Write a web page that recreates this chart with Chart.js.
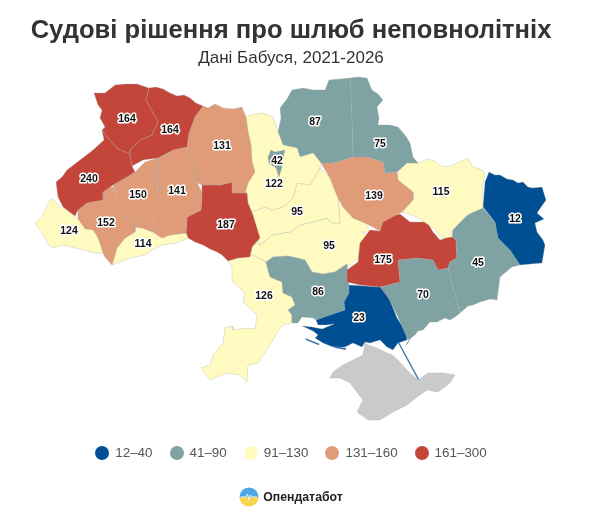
<!DOCTYPE html>
<html lang="uk">
<head>
<meta charset="utf-8">
<title>Судові рішення про шлюб неповнолітніх</title>
<script src="https://cdn.jsdelivr.net/npm/chart.js@4/dist/chart.umd.min.js"></script>
<style>
  body { margin: 0; background: #fff; font-family: "Liberation Sans", Arial, sans-serif; }
  #page { position: relative; width: 600px; height: 512px; overflow: hidden; }
  canvas { position: absolute; left: 0; top: 0; }
  .row { position: absolute; left: 0; width: 582px; text-align: center; }
  #title { top: 14px; font-size: 25.6px; font-weight: bold; color: #333; line-height: 30px; }
  #subtitle { top: 47px; font-size: 17px; color: #333; line-height: 22px; }
  #legend { top: 444px; display: flex; justify-content: center; gap: 17px; font-size: 13.4px; line-height: 18px; color: #555; }
  #legend span { display: flex; align-items: center; gap: 6px; }
  #legend i { width: 14px; height: 14px; border-radius: 50%; display: block; }
  #brand { top: 487px; display: flex; justify-content: center; align-items: center; gap: 4px; font-size: 12.3px; font-weight: bold; color: #222; height: 20px; }
</style>
</head>
<body>
<div id="page">
  <canvas id="map" width="600" height="512"></canvas>
  <div class="row" id="title">Судові рішення про шлюб неповнолітніх</div>
  <div class="row" id="subtitle">Дані Бабуся, 2021-2026</div>
  <div class="row" id="legend"></div>
  <div class="row" id="brand">
    <svg width="20" height="20" viewBox="0 0 20 20">
      <defs><linearGradient id="g" x1="0" y1="0" x2="0" y2="1">
        <stop offset="0.45" stop-color="#4aa8e8"/><stop offset="0.55" stop-color="#fbd44f"/>
      </linearGradient></defs>
      <circle cx="10" cy="10" r="9.5" fill="url(#g)"/>
      <path d="M2 10 H7 L8.5 7 L10 13 L11.5 8 L13 10 H18" fill="none" stroke="#fff" stroke-width="0.8"/>
    </svg>
    <span>Опендатабот</span>
  </div>
</div>

<script>
// legend bins
const binLabels = ['12–40', '41–90', '91–130', '131–160', '161–300'];
const binMax = [40, 90, 130, 160, 300];
const binColors = ['#004f92', '#7fa3a3', '#fffbc0', '#e09c78', '#c4463a'];
const noDataColor = '#cacaca';

// first entry is drawn on top, so Kyiv city comes before Kyiv oblast
const regionNames = ['Київ', 'Рівненська', 'Волинська', 'Львівська', 'Закарпатська', 'Івано-Франківська',
    'Тернопільська', 'Хмельницька', 'Чернівецька', 'Житомирська', 'Вінницька', 'Київська', 'Чернігівська',
    'Сумська', 'Полтавська', 'Харківська', 'Луганська', 'Донецька', 'Дніпропетровська', 'Запорізька',
    'Херсонська', 'Миколаївська', 'Одеська', 'Черкаська', 'Кіровоградська', 'Крим'];
const regionValues = [42, 164, 164, 240, 124, 152, 150, 141, 114, 131, 187, 122, 87, 75, 139, 115, 12, 45, 175, 70, 23, 86, 126, 95, 95, null];

// labels are skipped for Crimea, the outlines are traced by eye in map units
const labelAnchors = [[277,161],[127,119],[170,130],[89,179],[69,231],[106,223],[138,195],[177,191],[143,244],
    [222,146],[226,225],[274,184],[315,122],[380,144],[374,196],[441,192],[515,219],[478,263],[383,260],
    [423,295],[359,318],[318,292],[264,296],[297,212],[329,246],null];

const regionOutlines = [
    [[271,150],[275,152],[285,150],[283,158],[282,167],[279,177],[276,168],[269,163],[268,157]],
    [[115,85],[126,84],[137,84],[149,88],[146,100],[153,113],[158,122],[152,135],[140,140],[130,150],[130,154],[118,149],[112,143],[102,130],[105,127],[100,118],[102,110],[98,105],[94,93],[105,93]],
    [[149,88],[156,87],[163,89],[170,93],[177,96],[184,95],[190,98],[196,103],[203,106],[195,117],[189,133],[187,147],[173,150],[158,158],[143,160],[132,166],[130,154],[130,150],[140,140],[152,135],[158,122],[153,113],[146,100]],
    [[102,130],[112,143],[118,149],[130,154],[132,166],[135,172],[127,177],[113,185],[103,192],[103,200],[87,203],[78,210],[75,216],[63,207],[58,197],[56,182],[62,177],[67,170],[80,160],[93,150],[104,140]],
    [[52,198],[57,204],[62,208],[75,216],[78,219],[85,229],[93,230],[98,238],[103,253],[93,253],[84,250],[75,248],[63,245],[53,248],[48,244],[45,238],[40,230],[35,223],[40,219],[43,215],[48,203]],
    [[78,210],[87,203],[103,200],[103,192],[108,187],[113,187],[117,198],[120,210],[125,218],[135,222],[135,232],[125,238],[117,248],[112,265],[105,257],[103,253],[98,238],[93,230],[85,229],[78,219]],
    [[113,185],[127,177],[135,172],[145,162],[158,158],[158,172],[157,192],[154,208],[153,232],[142,228],[135,227],[135,222],[125,218],[120,210],[117,198]],
    [[158,158],[173,150],[187,147],[188,153],[197,170],[197,183],[202,192],[201,210],[187,217],[186,233],[170,235],[162,238],[153,232],[154,208],[157,192],[158,172]],
    [[135,232],[135,227],[142,228],[153,232],[162,238],[170,235],[186,233],[188,238],[177,243],[162,245],[152,250],[145,255],[130,258],[120,262],[112,265],[117,248],[125,238]],
    [[189,133],[195,117],[203,106],[208,108],[215,104],[223,108],[233,109],[242,107],[246,117],[248,132],[251,145],[252,162],[255,172],[248,183],[245,193],[233,193],[232,182],[220,185],[202,185],[197,183],[197,170],[188,153],[187,147]],
    [[202,185],[220,185],[232,182],[233,193],[247,193],[248,203],[253,215],[260,238],[252,247],[250,257],[238,258],[228,261],[222,255],[217,252],[210,249],[203,245],[195,242],[188,238],[186,233],[187,217],[201,210],[202,192]],
    [[246,117],[250,115],[263,113],[273,117],[278,132],[283,145],[297,148],[300,157],[313,153],[321,163],[320,168],[310,185],[297,183],[293,198],[283,207],[272,210],[265,207],[252,212],[248,203],[247,193],[245,193],[248,183],[255,172],[252,162],[251,145],[248,132]],
    [[292,90],[303,88],[314,90],[325,90],[329,80],[340,79],[350,78],[352,118],[353,157],[333,163],[321,163],[313,153],[300,157],[297,148],[283,145],[278,132],[281,118],[280,108],[287,99]],
    [[350,78],[358,77],[367,78],[372,90],[378,94],[383,100],[377,107],[379,118],[378,125],[390,125],[398,127],[405,135],[410,143],[413,157],[418,163],[407,163],[397,172],[385,173],[383,162],[368,157],[353,157],[352,118]],
    [[321,163],[333,163],[353,157],[368,157],[383,162],[385,173],[397,172],[398,180],[413,192],[413,200],[402,212],[383,222],[380,231],[365,223],[353,218],[343,207],[338,198],[330,178]],
    [[398,172],[407,163],[418,163],[427,159],[435,161],[443,167],[450,166],[457,163],[468,158],[473,167],[480,169],[485,173],[483,185],[482,202],[483,208],[467,215],[450,233],[453,237],[442,238],[433,228],[417,217],[402,212],[413,200],[413,192],[398,180]],
    [[489,172],[495,175],[500,175],[507,179],[513,180],[518,183],[523,182],[528,187],[533,188],[542,187],[546,200],[537,213],[544,219],[535,223],[537,232],[543,240],[545,245],[542,263],[520,265],[510,250],[498,238],[495,222],[483,207],[485,182]],
    [[475,209],[483,208],[495,222],[498,238],[510,250],[520,265],[512,267],[500,277],[497,300],[490,299],[487,300],[480,302],[473,305],[468,306],[460,313],[448,268],[450,262],[457,258],[456,240],[452,237],[453,228]],
    [[383,218],[400,214],[410,222],[427,222],[433,232],[440,240],[452,236],[456,240],[457,258],[450,262],[448,268],[438,270],[433,260],[417,258],[398,260],[400,282],[380,287],[360,285],[347,282],[347,270],[358,262],[360,243],[370,230],[380,231]],
    [[398,260],[417,258],[433,260],[438,270],[448,268],[460,313],[455,317],[450,320],[445,318],[437,322],[430,322],[423,330],[418,331],[415,335],[408,340],[397,315],[388,297],[380,287],[400,282]],
    [[349,285],[381,287],[390,300],[397,318],[407,333],[407,340],[398,343],[393,350],[387,347],[380,340],[370,343],[365,342],[362,347],[353,343],[345,347],[333,347],[323,343],[315,338],[318,335],[313,331],[302,326],[312,327],[322,329],[334,324],[326,325],[318,325],[316,320],[330,315],[345,310],[344,302],[349,293]],
    [[266,262],[273,257],[288,256],[297,258],[305,260],[312,272],[323,274],[335,272],[347,264],[349,285],[349,293],[344,302],[345,310],[330,315],[316,320],[313,318],[302,317],[298,323],[292,323],[292,315],[288,310],[295,305],[292,297],[283,293],[282,282],[270,277],[268,270]],
    [[228,261],[238,258],[253,255],[266,262],[268,270],[270,277],[282,282],[283,293],[292,297],[295,305],[288,310],[292,315],[292,323],[283,325],[277,333],[270,345],[264,354],[258,363],[248,365],[247,382],[240,375],[227,373],[210,380],[201,368],[210,365],[213,355],[223,343],[225,328],[232,326],[233,330],[247,328],[255,329],[257,315],[243,302],[245,293],[233,282],[232,268]],
    [[250,212],[265,207],[272,210],[283,207],[293,198],[297,183],[310,185],[320,168],[330,178],[338,198],[340,223],[332,223],[327,218],[313,222],[300,225],[290,232],[272,235],[260,245],[255,230],[252,218]],
    [[260,245],[272,235],[290,232],[300,225],[313,222],[327,218],[332,223],[340,223],[338,198],[343,207],[353,218],[365,223],[370,232],[362,232],[368,235],[360,243],[358,258],[348,267],[347,264],[335,272],[323,274],[312,272],[305,260],[297,258],[288,256],[273,257],[266,262],[253,255],[250,257],[252,247],[260,240]],
    [[365,343],[368,345],[377,348],[385,352],[392,355],[398,360],[407,370],[418,380],[428,373],[443,373],[455,375],[450,383],[438,392],[427,390],[417,397],[407,405],[393,412],[380,420],[368,420],[357,412],[363,400],[350,383],[340,378],[330,378],[333,372],[343,365],[353,360],[363,355]]
];

// spits and small islands of Kherson oblast
const khersonSlivers = [
    [[305,338],[320,344],[318,345],[306,340]],
    [[333,346],[346,348],[346,350],[335,348]],
    [[398,343],[399.5,343],[419,379],[418,380]],
    [[406,346],[413,335],[407,343]]
];

function colorFor(value) {
    if (value === null) return noDataColor;
    return binColors[binMax.findIndex(limit => value <= limit)];
}

function toPoints(outline) {
    const points = outline.map(pair => ({ x: pair[0], y: pair[1] }));
    points.push(points[0]);
    return points;
}

function polygonDataset(outline, color, label) {
    return {
        label: label,
        data: toPoints(outline),
        showLine: true,
        fill: 'shape',
        tension: 0,
        pointRadius: 0,
        pointHoverRadius: 0,
        backgroundColor: color,
        borderColor: 'rgba(170,170,170,0.45)',
        borderWidth: 0.7
    };
}

const datasets = regionOutlines.map((outline, i) => polygonDataset(outline, colorFor(regionValues[i]), regionNames[i]));
khersonSlivers.forEach(outline => {
    const ds = polygonDataset(outline, '#3f74ad', 'Херсонська');
    ds.borderWidth = 0;
    datasets.unshift(ds);
});

const valueLabels = {
    id: 'valueLabels',
    afterDatasetsDraw(chart) {
        const ctx = chart.ctx;
        ctx.save();
        ctx.font = 'bold 10.5px "Liberation Sans", Arial, sans-serif';
        ctx.textAlign = 'center';
        ctx.textBaseline = 'middle';
        ctx.lineJoin = 'round';
        regionValues.forEach((value, i) => {
            if (value === null) return;
            const px = chart.scales.x.getPixelForValue(labelAnchors[i][0]);
            const py = chart.scales.y.getPixelForValue(labelAnchors[i][1]);
            ctx.lineWidth = 3;
            ctx.strokeStyle = '#fff';
            ctx.strokeText(value, px, py);
            ctx.fillStyle = '#111';
            ctx.fillText(value, px, py);
        });
        ctx.restore();
    }
};

new Chart(document.getElementById('map'), {
    type: 'scatter',
    data: { datasets },
    plugins: [valueLabels],
    options: {
        responsive: false,
        animation: false,
        layout: { padding: 0 },
        plugins: { legend: { display: false }, title: { display: false }, tooltip: { enabled: false } },
        scales: {
            x: { type: 'linear', display: false, min: 0, max: 600 },
            y: { type: 'linear', display: false, min: 0, max: 512, reverse: true }
        }
    }
});

document.getElementById('legend').innerHTML = binLabels.map((label, i) =>
    `<span><i style="background:${binColors[i]}"></i>${label}</span>`).join('');
</script>
</body>
</html>
